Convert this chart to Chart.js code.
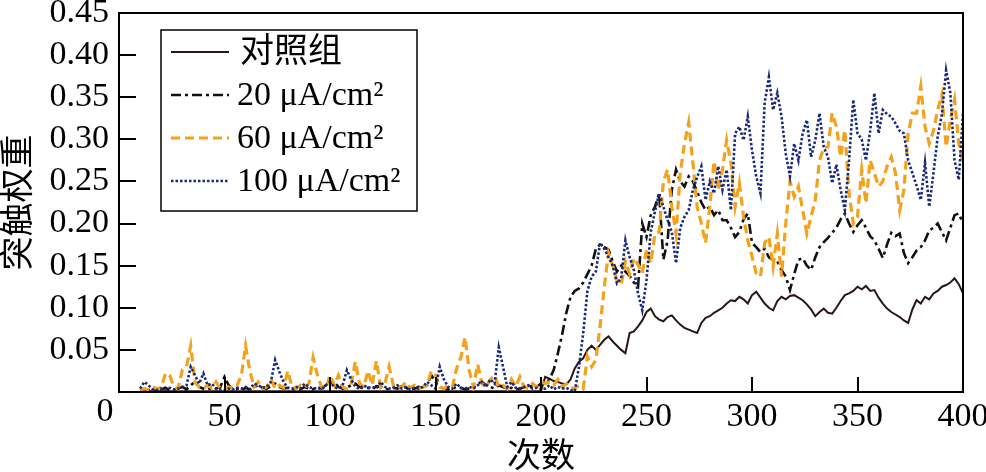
<!DOCTYPE html>
<html>
<head>
<meta charset="utf-8">
<script src="https://cdn.jsdelivr.net/npm/chart.js@4.4.1/dist/chart.umd.min.js"></script>
<style>
  html, body { margin: 0; padding: 0; background: #fff; }
</style>
</head>
<body>
<canvas id="weightChart" width="986" height="472"></canvas>
<script>
const runs = [
    10, 12, 14, 16, 18, 20, 22, 24, 26, 28, 30, 32, 34, 36, 38, 40, 42, 44, 46, 48,
    50, 52, 54, 56, 58, 60, 62, 64, 66, 68, 70, 72, 74, 76, 78, 80, 82, 84, 86, 88,
    90, 92, 94, 96, 98, 100, 102, 104, 106, 108, 110, 112, 114, 116, 118, 120, 122, 124, 126, 128,
    130, 132, 134, 136, 138, 140, 142, 144, 146, 148, 150, 152, 154, 156, 158, 160, 162, 164, 166, 168,
    170, 172, 174, 176, 178, 180, 182, 184, 186, 188, 190, 192, 194, 196, 198, 200,
    202, 204, 206, 208, 210, 212, 214, 216, 218, 220, 222, 224, 226, 228, 230, 232, 234, 236, 238, 240,
    242, 244, 246, 248, 250, 252, 254, 256, 258, 260, 262, 264, 266, 268, 270, 272, 274, 276, 278, 280,
    282, 284, 286, 288, 290, 292, 294, 296, 298, 300, 302, 304, 306, 308, 310, 312, 314, 316, 318, 320,
    322, 324, 326, 328, 330, 332, 334, 336, 338, 340, 342, 344, 346, 348, 350, 352, 354, 356, 358, 360,
    362, 364, 366, 368, 370, 372, 374, 376, 378, 380, 382, 384, 386, 388, 390, 392, 394, 396, 398, 400
];

// 对照组
const control = [
    0.001, 0.001, 0.001, 0.001, 0.001, 0.001, 0.001, 0.001, 0.001, 0.001,
    0.001, 0.001, 0.001, 0.001, 0.001, 0.001, 0.001, 0.001, 0.001, 0.001,
    0.001, 0.001, 0.001, 0.001, 0.001, 0.001, 0.001, 0.001, 0.001, 0.001,
    0.001, 0.001, 0.001, 0.001, 0.001, 0.001, 0.001, 0.001, 0.001, 0.001,
    0.001, 0.001, 0.001, 0.001, 0.001, 0.001, 0.001, 0.001, 0.001, 0.001,
    0.001, 0.001, 0.001, 0.001, 0.001, 0.001, 0.001, 0.001, 0.001, 0.001,
    0.001, 0.001, 0.001, 0.001, 0.001, 0.001, 0.001, 0.001, 0.001, 0.001,
    0.001, 0.001, 0.001, 0.001, 0.001, 0.001, 0.001, 0.001, 0.001, 0.001,
    0.001, 0.001, 0.001, 0.001, 0.001, 0.001, 0.001, 0.001, 0.001, 0.001,
    0.001, 0.001, 0.001, 0.001, 0.001, 0.001,
    0.018, 0.016, 0.013, 0.012, 0.010, 0.009, 0.015, 0.028, 0.036, 0.040,
    0.050, 0.055, 0.050, 0.056, 0.062, 0.066, 0.060, 0.055, 0.050, 0.046,
    0.070, 0.072, 0.078, 0.085, 0.095, 0.099, 0.090, 0.086, 0.084, 0.089,
    0.091, 0.085, 0.080, 0.076, 0.074, 0.072, 0.070, 0.082, 0.088, 0.090,
    0.094, 0.097, 0.100, 0.105, 0.109, 0.108, 0.113, 0.110, 0.105, 0.115,
    0.119, 0.112, 0.105, 0.100, 0.097, 0.108, 0.113, 0.110, 0.114, 0.115,
    0.112, 0.109, 0.104, 0.098, 0.090, 0.095, 0.099, 0.094, 0.093, 0.100,
    0.108, 0.115, 0.117, 0.120, 0.125, 0.122, 0.126, 0.120, 0.121, 0.112,
    0.105, 0.099, 0.095, 0.092, 0.089, 0.085, 0.082, 0.098, 0.109, 0.105,
    0.113, 0.110, 0.117, 0.120, 0.125, 0.127, 0.130, 0.135, 0.128, 0.117
];

// 20 μA/cm²
const stim20 = [
    0.002, 0.003, 0.002, 0.004, 0.002, 0.003, 0.005, 0.002, 0.003, 0.004,
    0.006, 0.003, 0.008, 0.012, 0.006, 0.004, 0.003, 0.005, 0.004, 0.006,
    0.018, 0.008, 0.003, 0.004, 0.002, 0.005, 0.003, 0.006, 0.008, 0.005,
    0.004, 0.007, 0.010, 0.006, 0.004, 0.005, 0.003, 0.004, 0.003, 0.006,
    0.004, 0.003, 0.006, 0.004, 0.008, 0.010, 0.012, 0.006, 0.004, 0.005,
    0.008, 0.010, 0.006, 0.004, 0.005, 0.003, 0.007, 0.006, 0.004, 0.003,
    0.005, 0.004, 0.007, 0.005, 0.003, 0.004, 0.006, 0.005, 0.008, 0.020,
    0.012, 0.006, 0.004, 0.003, 0.006, 0.004, 0.005, 0.003, 0.004, 0.006,
    0.010, 0.012, 0.008, 0.006, 0.004, 0.008, 0.006, 0.004, 0.005, 0.003,
    0.004, 0.006, 0.005, 0.008, 0.006, 0.010,
    0.010, 0.015, 0.026, 0.046, 0.068, 0.094, 0.113, 0.120, 0.123, 0.130,
    0.140, 0.150, 0.170, 0.175, 0.172, 0.169, 0.155, 0.143, 0.150, 0.143,
    0.138, 0.130, 0.125, 0.200, 0.184, 0.210, 0.220, 0.235, 0.157, 0.180,
    0.240, 0.264, 0.250, 0.244, 0.256, 0.250, 0.238, 0.225, 0.216, 0.220,
    0.210, 0.216, 0.204, 0.204, 0.195, 0.184, 0.190, 0.205, 0.212, 0.177,
    0.172, 0.166, 0.170, 0.160, 0.157, 0.155, 0.145, 0.137, 0.121, 0.140,
    0.157, 0.159, 0.150, 0.145, 0.160, 0.172, 0.178, 0.183, 0.189, 0.195,
    0.205, 0.212, 0.200, 0.190, 0.198, 0.204, 0.195, 0.185, 0.180, 0.170,
    0.159, 0.175, 0.189, 0.185, 0.188, 0.165, 0.153, 0.160, 0.168, 0.172,
    0.180, 0.192, 0.195, 0.200, 0.190, 0.180, 0.195, 0.210, 0.212, 0.200
];

// 60 μA/cm²
const stim60 = [
    0.002, 0.004, 0.003, 0.006, 0.004, 0.005, 0.022, 0.020, 0.006, 0.004,
    0.026, 0.030, 0.055, 0.012, 0.006, 0.004, 0.008, 0.005, 0.012, 0.004,
    0.003, 0.006, 0.004, 0.008, 0.020, 0.055, 0.025, 0.006, 0.012, 0.004,
    0.006, 0.015, 0.004, 0.008, 0.005, 0.025, 0.006, 0.004, 0.008, 0.005,
    0.010, 0.041, 0.020, 0.006, 0.004, 0.020, 0.008, 0.020, 0.006, 0.004,
    0.008, 0.036, 0.010, 0.006, 0.025, 0.008, 0.037, 0.006, 0.010, 0.030,
    0.008, 0.004, 0.006, 0.012, 0.005, 0.008, 0.004, 0.006, 0.008, 0.025,
    0.020, 0.006, 0.004, 0.008, 0.006, 0.028, 0.041, 0.065, 0.025, 0.006,
    0.033, 0.010, 0.006, 0.015, 0.020, 0.006, 0.008, 0.004, 0.015, 0.006,
    0.018, 0.006, 0.004, 0.010, 0.006, 0.012,
    0.010, 0.012, 0.008, 0.015, 0.006, 0.010, 0.005, 0.004, 0.008, 0.004,
    0.042, 0.030, 0.038, 0.078, 0.125, 0.165, 0.150, 0.133, 0.127, 0.155,
    0.140, 0.159, 0.151, 0.141, 0.169, 0.153, 0.188, 0.190, 0.250, 0.264,
    0.220, 0.188, 0.260, 0.295, 0.320, 0.272, 0.220, 0.200, 0.177, 0.220,
    0.274, 0.240, 0.264, 0.299, 0.272, 0.220, 0.248, 0.208, 0.180, 0.161,
    0.141, 0.137, 0.177, 0.184, 0.149, 0.188, 0.137, 0.200, 0.250, 0.232,
    0.244, 0.216, 0.188, 0.208, 0.228, 0.275, 0.290, 0.291, 0.331, 0.315,
    0.279, 0.311, 0.236, 0.200, 0.208, 0.264, 0.224, 0.275, 0.260, 0.244,
    0.250, 0.268, 0.279, 0.260, 0.216, 0.240, 0.307, 0.331, 0.331, 0.363,
    0.315, 0.295, 0.310, 0.335, 0.353, 0.291, 0.323, 0.347, 0.295, 0.272
];

// 100 μA/cm²
const stim100 = [
    0.004, 0.012, 0.008, 0.003, 0.002, 0.004, 0.003, 0.005, 0.003, 0.004,
    0.006, 0.008, 0.030, 0.020, 0.010, 0.022, 0.008, 0.010, 0.004, 0.003,
    0.002, 0.004, 0.003, 0.005, 0.004, 0.006, 0.003, 0.010, 0.008, 0.005,
    0.006, 0.012, 0.038, 0.024, 0.012, 0.005, 0.004, 0.006, 0.004, 0.010,
    0.006, 0.004, 0.005, 0.003, 0.008, 0.012, 0.006, 0.004, 0.008, 0.026,
    0.015, 0.006, 0.004, 0.008, 0.005, 0.006, 0.004, 0.012, 0.006, 0.004,
    0.005, 0.008, 0.004, 0.006, 0.003, 0.005, 0.004, 0.006, 0.012, 0.008,
    0.004, 0.030, 0.015, 0.006, 0.004, 0.010, 0.005, 0.004, 0.006, 0.004,
    0.008, 0.012, 0.006, 0.015, 0.010, 0.053, 0.030, 0.006, 0.012, 0.005,
    0.004, 0.006, 0.008, 0.004, 0.005, 0.003,
    0.004, 0.008, 0.003, 0.006, 0.004, 0.005, 0.002, 0.001, 0.030, 0.070,
    0.120, 0.137, 0.143, 0.177, 0.170, 0.160, 0.150, 0.129, 0.135, 0.180,
    0.160, 0.145, 0.117, 0.097, 0.133, 0.190, 0.214, 0.236, 0.220, 0.204,
    0.190, 0.153, 0.195, 0.208, 0.216, 0.240, 0.255, 0.268, 0.228, 0.250,
    0.236, 0.268, 0.240, 0.264, 0.216, 0.307, 0.315, 0.299, 0.327, 0.287,
    0.256, 0.236, 0.343, 0.374, 0.335, 0.355, 0.327, 0.283, 0.256, 0.295,
    0.275, 0.307, 0.323, 0.279, 0.299, 0.331, 0.291, 0.279, 0.248, 0.270,
    0.240, 0.216, 0.275, 0.347, 0.307, 0.300, 0.275, 0.310, 0.355, 0.307,
    0.335, 0.330, 0.327, 0.319, 0.310, 0.307, 0.275, 0.260, 0.245, 0.228,
    0.272, 0.220, 0.260, 0.303, 0.330, 0.382, 0.355, 0.275, 0.252, 0.331
];

const xTicks = [50, 100, 150, 200, 250, 300, 350];
const yTicks = [0.05, 0.10, 0.15, 0.20, 0.25, 0.30, 0.35, 0.40];

const serif = '"Liberation Serif", "Noto Sans CJK SC", serif';

// box frame, inward ticks, the shifted "0" and the boxed legend
const frame = {
    id: 'frame',
    afterDraw(chart) {
        const { ctx, chartArea: a, scales: { x, y } } = chart;
        ctx.save();
        ctx.strokeStyle = '#000';
        ctx.lineWidth = 2;
        ctx.setLineDash([]);
        ctx.strokeRect(a.left, a.top, a.right - a.left, a.bottom - a.top);
        ctx.beginPath();
        yTicks.forEach(v => {
            const py = Math.round(y.getPixelForValue(v));
            ctx.moveTo(a.left, py);
            ctx.lineTo(a.left + 17, py);
        });
        xTicks.forEach(v => {
            const px = Math.round(x.getPixelForValue(v));
            ctx.moveTo(px, a.bottom);
            ctx.lineTo(px, a.bottom - 15);
        });
        ctx.stroke();

        ctx.fillStyle = '#000';
        ctx.font = '34px ' + serif;
        ctx.textAlign = 'center';
        ctx.textBaseline = 'middle';
        ctx.fillText('0', x.getPixelForValue(0) - 14, a.bottom + 20);

        const bx = a.left + 42, by = a.top + 17, bw = 256, bh = 181;
        ctx.fillStyle = '#fff';
        ctx.fillRect(bx, by, bw, bh);
        ctx.lineWidth = 1.5;
        ctx.strokeRect(bx, by, bw, bh);
        ctx.textAlign = 'left';
        ctx.font = '34px ' + serif;
        chart.data.datasets.forEach((ds, i) => {
            const ly = by + 22 + i * 43;
            ctx.strokeStyle = ds.borderColor;
            ctx.lineWidth = ds.borderWidth;
            ctx.setLineDash(ds.borderDash);
            ctx.beginPath();
            ctx.moveTo(bx + 10, ly);
            ctx.lineTo(bx + 68, ly);
            ctx.stroke();
            ctx.fillStyle = '#000';
            ctx.fillText(ds.label, bx + (i === 0 ? 79 : 76), ly + 1);
        });
        ctx.restore();
    }
};

new Chart(document.getElementById('weightChart'), {
    type: 'line',
    data: {
        labels: runs,
        datasets: [
            { label: '对照组', data: control, borderColor: '#2b1616', borderWidth: 2, borderDash: [], order: 3 },
            { label: '20 μA/cm²', data: stim20, borderColor: '#111111', borderWidth: 2.6, borderDash: [10, 4, 3, 4], order: 2 },
            { label: '60 μA/cm²', data: stim60, borderColor: '#f4a11c', borderWidth: 3.2, borderDash: [9, 5], order: 1 },
            { label: '100 μA/cm²', data: stim100, borderColor: '#1a2a78', borderWidth: 2.6, borderDash: [2.5, 2], order: 0 }
        ]
    },
    options: {
        responsive: false,
        animation: false,
        elements: {
            point: { radius: 0 },
            line: { tension: 0 }
        },
        layout: { padding: { top: 13, right: 23, left: 0, bottom: 0 } },
        plugins: {
            legend: { display: false },
            tooltip: { enabled: false }
        },
        scales: {
            x: {
                type: 'linear',
                min: 0,
                max: 400,
                grid: { display: false },
                border: { display: false },
                ticks: {
                    stepSize: 50,
                    autoSkip: false,
                    maxRotation: 0,
                    padding: -3,
                    color: '#000',
                    font: { family: serif, size: 34 },
                    callback: v => v === 0 ? '' : v
                },
                title: { display: true, text: '次数', color: '#000', padding: { top: 0, bottom: -6 }, font: { family: serif, size: 34 } },
                afterFit: s => { s.height = 80; s.paddingLeft = 0; s.paddingRight = 0; }
            },
            y: {
                min: 0,
                max: 0.45,
                grid: { display: false, drawTicks: false },
                border: { display: false },
                ticks: {
                    stepSize: 0.05,
                    autoSkip: false,
                    padding: 10,
                    color: '#000',
                    font: { family: serif, size: 34 },
                    callback: v => v === 0 ? '' : v.toFixed(2)
                },
                title: { display: true, text: '突触权重', color: '#000', padding: 0, font: { family: serif, size: 34 } },
                afterFit: s => { s.width = 119; s.paddingTop = 0; s.paddingBottom = 0; }
            }
        }
    },
    plugins: [frame]
});
</script>
</body>
</html>
